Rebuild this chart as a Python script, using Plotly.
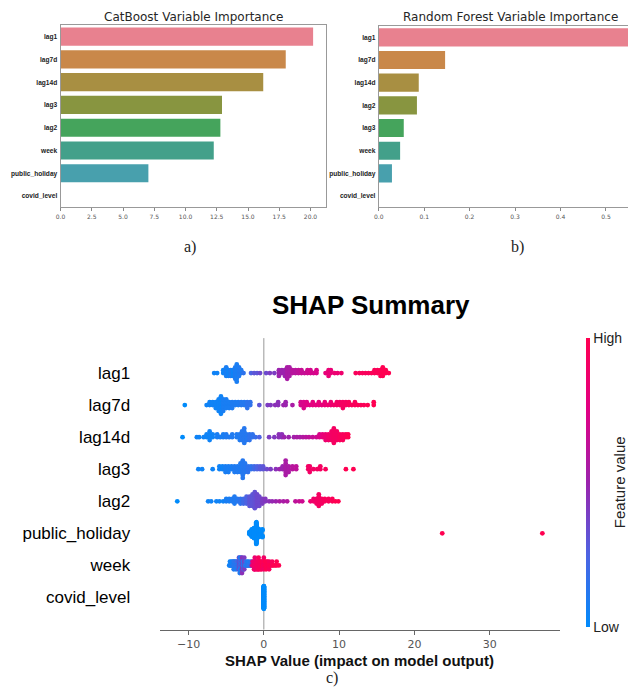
import numpy as np
import plotly.graph_objects as go

# ---------------- data: panel a (CatBoost) ----------------
features_cb = ["lag1", "lag7d", "lag14d", "lag3", "lag2", "week", "public_holiday", "covid_level"]
importance_cb = [20.21, 18.02, 16.22, 12.92, 12.79, 12.26, 7.03, 0.0]
cb_ticks = [0.0, 2.5, 5.0, 7.5, 10.0, 12.5, 15.0, 17.5, 20.0]

# ---------------- data: panel b (Random Forest) ----------------
features_rf = ["lag1", "lag7d", "lag14d", "lag2", "lag3", "week", "public_holiday", "covid_level"]
importance_rf = [0.557, 0.146, 0.088, 0.084, 0.055, 0.047, 0.029, 0.0]
rf_ticks = [0.0, 0.1, 0.2, 0.3, 0.4, 0.5]

bar_colors = ["#e8818f", "#c9884a", "#a88f42", "#889540", "#45a45c", "#43a08a", "#48a0ad", "#5c9fd0"]

# ---------------- data: panel c (SHAP summary) ----------------
# each entry: (shap value, number of points at that value, normalised feature value)
shap_lag1 = [(-6.6, 1, 0.05), (-6.2, 1, 0.05), (-5.4, 2, 0.05), (-5.0, 4, 0.08), (-4.7, 3, 0.05),
             (-4.4, 3, 0.10), (-4.1, 3, 0.05), (-3.8, 5, 0.10), (-3.6, 7, 0.08), (-3.3, 4, 0.10),
             (-3.0, 2, 0.10), (-2.7, 1, 0.15), (-1.7, 1, 0.25), (-1.3, 1, 0.30), (-0.9, 1, 0.30),
             (-0.5, 1, 0.35), (0.3, 1, 0.35), (0.8, 1, 0.40), (1.4, 1, 0.40), (2.0, 3, 0.50),
             (2.4, 2, 0.50), (2.8, 3, 0.50), (3.1, 5, 0.55), (3.4, 4, 0.55), (3.8, 2, 0.60),
             (4.2, 2, 0.60), (4.6, 2, 0.62), (5.0, 2, 0.65), (5.4, 1, 0.65), (5.8, 2, 0.68),
             (6.2, 2, 0.70), (6.6, 1, 0.70), (7.0, 2, 0.72), (8.2, 1, 0.80), (8.6, 3, 0.82),
             (8.9, 2, 0.82), (9.4, 1, 0.85), (9.8, 1, 0.85), (10.3, 1, 0.87), (12.2, 1, 0.95),
             (12.7, 1, 0.95), (13.1, 1, 0.95), (13.5, 1, 0.95), (13.9, 1, 0.95), (14.3, 1, 0.97),
             (14.7, 2, 0.97), (15.1, 2, 0.97), (15.5, 3, 0.98), (15.8, 4, 1.0), (16.2, 2, 1.0),
             (16.6, 1, 1.0)]
shap_lag7d = [(-10.5, 1, 0.0), (-7.6, 1, 0.05), (-7.2, 2, 0.05), (-6.8, 2, 0.05), (-6.4, 3, 0.05),
              (-6.0, 5, 0.05), (-5.7, 7, 0.05), (-5.4, 5, 0.08), (-5.0, 4, 0.08), (-4.6, 3, 0.08),
              (-4.2, 3, 0.10), (-3.8, 2, 0.10), (-3.4, 2, 0.10), (-3.0, 2, 0.12), (-2.6, 2, 0.12),
              (-2.2, 3, 0.15), (-1.8, 2, 0.15), (-0.6, 1, 0.30), (0.5, 1, 0.40), (0.9, 1, 0.42),
              (1.5, 1, 0.45), (1.9, 2, 0.45), (2.6, 1, 0.50), (2.9, 2, 0.50), (3.8, 1, 0.55),
              (4.9, 2, 0.70), (5.3, 3, 0.72), (5.7, 2, 0.75), (6.1, 1, 0.75), (6.5, 2, 0.78),
              (6.9, 1, 0.78), (7.3, 2, 0.80), (7.7, 1, 0.80), (8.1, 2, 0.82), (8.5, 1, 0.85),
              (8.9, 2, 0.85), (9.3, 1, 0.88), (9.7, 2, 0.90), (10.1, 2, 0.90), (10.5, 3, 0.92),
              (10.9, 2, 0.92), (11.3, 2, 0.95), (11.7, 1, 0.95), (12.1, 2, 0.95), (12.5, 1, 0.97),
              (12.9, 1, 0.97), (13.3, 1, 0.97), (13.8, 1, 1.0), (14.6, 2, 1.0)]
shap_lag14d = [(-10.8, 1, 0.0), (-8.9, 1, 0.05), (-8.6, 1, 0.05), (-8.0, 1, 0.05), (-7.6, 2, 0.05),
               (-7.2, 4, 0.05), (-6.8, 2, 0.05), (-6.2, 2, 0.08), (-5.8, 1, 0.08), (-5.4, 2, 0.08),
               (-5.0, 2, 0.10), (-4.6, 1, 0.10), (-4.2, 2, 0.10), (-3.6, 2, 0.10), (-3.2, 3, 0.10),
               (-2.9, 4, 0.12), (-2.6, 6, 0.12), (-2.3, 3, 0.12), (-1.9, 3, 0.15), (-1.5, 2, 0.15),
               (-1.1, 1, 0.18), (-0.6, 1, 0.25), (0.7, 1, 0.40), (1.4, 1, 0.42), (2.0, 2, 0.45),
               (2.4, 2, 0.45), (2.7, 1, 0.50), (3.3, 1, 0.50), (4.0, 1, 0.52), (4.4, 1, 0.55),
               (4.8, 1, 0.55), (5.2, 1, 0.58), (5.6, 1, 0.60), (6.0, 1, 0.62), (6.5, 1, 0.65),
               (7.0, 1, 0.68), (7.4, 2, 0.72), (7.8, 2, 0.80), (8.2, 3, 0.85), (8.6, 3, 0.88),
               (9.0, 4, 0.90), (9.3, 6, 0.92), (9.7, 4, 0.92), (10.1, 3, 0.95), (10.5, 3, 0.95),
               (10.9, 2, 0.97), (11.2, 2, 1.0)]
shap_lag3 = [(-8.7, 1, 0.05), (-8.2, 1, 0.05), (-6.8, 1, 0.05), (-5.9, 2, 0.05), (-5.5, 2, 0.05),
             (-5.1, 3, 0.08), (-4.7, 3, 0.08), (-4.3, 2, 0.08), (-3.9, 3, 0.10), (-3.5, 3, 0.10),
             (-3.1, 4, 0.10), (-2.8, 7, 0.12), (-2.5, 4, 0.12), (-2.1, 3, 0.15), (-1.7, 2, 0.15),
             (-1.3, 2, 0.20), (-0.9, 2, 0.25), (-0.5, 2, 0.28), (-0.1, 2, 0.30), (0.4, 1, 0.35),
             (0.9, 1, 0.40), (1.6, 1, 0.45), (2.1, 1, 0.50), (2.5, 2, 0.50), (2.9, 6, 0.55),
             (3.3, 3, 0.55), (3.8, 2, 0.60), (4.3, 2, 0.62), (5.9, 2, 0.90), (6.1, 3, 0.90),
             (6.6, 1, 0.90), (7.1, 1, 0.92), (7.5, 2, 0.92), (8.2, 1, 0.95), (10.9, 1, 1.0),
             (11.9, 1, 1.0)]
shap_lag2 = [(-11.5, 1, 0.0), (-7.4, 1, 0.05), (-7.0, 1, 0.05), (-6.3, 1, 0.05), (-5.9, 1, 0.05),
             (-5.4, 1, 0.05), (-5.0, 2, 0.08), (-4.6, 2, 0.08), (-4.2, 2, 0.10), (-3.9, 4, 0.10),
             (-3.5, 2, 0.12), (-3.1, 3, 0.15), (-2.7, 3, 0.20), (-2.3, 4, 0.25), (-1.9, 5, 0.30),
             (-1.5, 6, 0.30), (-1.2, 8, 0.32), (-0.9, 6, 0.35), (-0.6, 5, 0.35), (-0.2, 3, 0.40),
             (0.2, 2, 0.42), (0.7, 1, 0.45), (1.1, 1, 0.48), (1.6, 1, 0.50), (2.1, 1, 0.55),
             (2.6, 1, 0.55), (3.1, 1, 0.58), (4.2, 1, 0.62), (4.7, 1, 0.65), (5.1, 1, 0.68),
             (6.2, 1, 0.85), (6.6, 2, 0.88), (7.0, 3, 0.90), (7.3, 6, 0.92), (7.7, 3, 0.92),
             (8.1, 2, 0.95), (8.6, 2, 0.95), (9.1, 2, 0.97), (9.5, 1, 1.0), (9.9, 1, 1.0)]
shap_public_holiday = [(-1.9, 6, 0.0), (-1.6, 16, 0.0), (-1.3, 22, 0.0), (-1.0, 24, 0.0),
                       (-0.7, 18, 0.0), (-0.4, 10, 0.0), (-0.2, 7, 0.0), (23.7, 1, 1.0), (37.0, 1, 1.0)]
shap_week = [(-4.6, 1, 0.05), (-4.5, 2, 0.05), (-4.4, 1, 0.10), (-4.3, 2, 0.05), (-4.2, 1, 0.10),
             (-4.1, 2, 0.10), (-4.0, 3, 0.10), (-3.9, 2, 0.15), (-3.8, 1, 0.10), (-3.7, 3, 0.10),
             (-3.6, 2, 0.20), (-3.5, 1, 0.10), (-3.4, 3, 0.15), (-3.3, 4, 0.40), (-3.2, 5, 0.10),
             (-3.1, 2, 0.30), (-3.0, 4, 0.10), (-2.9, 5, 0.45), (-2.8, 2, 0.10), (-2.7, 3, 0.15),
             (-2.6, 4, 0.40), (-2.5, 1, 0.10), (-2.4, 2, 0.20), (-2.3, 1, 0.10), (-2.2, 2, 0.10),
             (-2.1, 1, 0.15), (-2.0, 2, 0.10), (-1.9, 1, 0.20), (-1.8, 1, 0.10), (-1.7, 2, 0.15),
             (-1.6, 1, 0.60), (-1.5, 2, 0.80), (-1.4, 1, 0.85), (-1.3, 3, 0.90), (-1.2, 4, 0.85),
             (-1.1, 2, 0.90), (-1.0, 3, 0.90), (-0.9, 1, 0.95), (-0.8, 3, 0.90), (-0.7, 4, 0.95),
             (-0.6, 2, 0.90), (-0.5, 3, 0.95), (-0.4, 1, 0.90), (-0.3, 3, 0.95), (-0.2, 2, 1.0),
             (-0.1, 1, 0.95), (0.0, 4, 0.90), (0.1, 2, 1.0), (0.2, 1, 0.95), (0.3, 3, 1.0),
             (0.4, 1, 0.95), (0.5, 2, 1.0), (0.6, 1, 1.0), (0.7, 3, 0.95), (0.8, 1, 1.0),
             (1.0, 1, 1.0), (1.1, 2, 0.95), (1.3, 1, 1.0), (1.5, 1, 1.0), (1.7, 2, 1.0),
             (2.0, 1, 1.0)]
shap_covid_level = [(0.0, 105, 0.0)]

shap_features = ["lag1", "lag7d", "lag14d", "lag3", "lag2", "public_holiday", "week", "covid_level"]
shap_rows = [shap_lag1, shap_lag7d, shap_lag14d, shap_lag3, shap_lag2,
             shap_public_holiday, shap_week, shap_covid_level]
shap_ticks = [-10, 0, 10, 20, 30]

# SHAP red_blue colour map (blue -> purple -> red)
shap_colorscale = [[0.0, "#008bfb"], [0.25, "#4d63e2"], [0.5, "#9b23ad"],
                   [0.75, "#e10084"], [1.0, "#ff0051"]]


def beeswarm(vals, row_height=0.4, nbins=100):
    """Vertical offsets as computed by shap's beeswarm layout."""
    vals = np.asarray(vals, dtype=float)
    n = len(vals)
    span = vals.max() - vals.min()
    quant = np.round(nbins * (vals - vals.min()) / (span + 1e-8))
    inds = np.argsort(quant, kind="stable")
    layer, last = 0, -1
    ys = np.zeros(n)
    for i in inds:
        if quant[i] != last:
            layer = 0
        ys[i] = np.ceil(layer / 2) * ((layer % 2) * 2 - 1)
        layer += 1
        last = quant[i]
    ys *= 0.9 * (row_height / np.max(ys + 1))
    return ys


# the page body has an 8px margin: the figure's origin sits at page pixel (8, 8)
OFF = 8
W, H = 628, 680
def px(x):
    return (x - OFF) / W
def py(y):
    return 1 - (y - OFF) / H

fig = go.Figure()

# panel a
fig.add_trace(go.Bar(x=importance_cb, y=features_cb, orientation="h", width=0.8,
                     marker=dict(color=bar_colors, line=dict(width=0)),
                     xaxis="x", yaxis="y", hoverinfo="x+y"))
# panel b
fig.add_trace(go.Bar(x=importance_rf, y=features_rf, orientation="h", width=0.8,
                     marker=dict(color=bar_colors, line=dict(width=0)),
                     xaxis="x2", yaxis="y2", hoverinfo="x+y"))

# panel c
n_feat = len(shap_features)
for k, (name, row) in enumerate(zip(shap_features, shap_rows)):
    xs, cs = [], []
    for v, cnt, c in row:
        xs += [v] * cnt
        cs += [c] * cnt
    pos = n_feat - 1 - k
    ys = pos + beeswarm(xs)
    fig.add_trace(go.Scatter(
        x=xs, y=ys, mode="markers", name=name, xaxis="x3", yaxis="y3",
        marker=dict(size=4.8, color=cs, coloraxis="coloraxis", line=dict(width=0)),
        hoverinfo="x"))

tick_small = dict(family="DejaVu Sans", size=6, color="#555555")
ylab_small = dict(family="Liberation Sans", size=6.6, color="#222222", weight="bold")

fig.update_layout(
    width=W, height=H, margin=dict(l=0, r=0, t=0, b=0),
    paper_bgcolor="white", plot_bgcolor="white", showlegend=False,
    xaxis=dict(domain=[px(56), px(324)], anchor="y", range=[0, 21.24],
               tickvals=cb_ticks, ticktext=[f"{v:.1f}" for v in cb_ticks],
               tickfont=tick_small, ticks="outside", ticklen=3, tickcolor="#888888",
               showline=True, mirror=True, linecolor="#999999", linewidth=1,
               showgrid=False, zeroline=False),
    yaxis=dict(domain=[py(207.4), py(25.3)], anchor="x", type="category",
               categoryorder="array", categoryarray=features_cb, range=[7.5, -0.5],
               tickfont=ylab_small, ticks="outside", ticklen=1, tickcolor="rgba(0,0,0,0)",
               showline=True, mirror=True, linecolor="#999999", linewidth=1,
               showgrid=False, zeroline=False),
    xaxis2=dict(domain=[px(377.3), 1.0], anchor="y2", range=[0, (636 - 377.3) / 458.7],
                tickvals=rf_ticks, ticktext=[f"{v:.1f}" for v in rf_ticks],
                tickfont=tick_small, ticks="outside", ticklen=3, tickcolor="#888888",
                showline=True, mirror=True, linecolor="#999999", linewidth=1,
                showgrid=False, zeroline=False),
    yaxis2=dict(domain=[py(207.4), py(26.0)], anchor="x2", type="category",
                categoryorder="array", categoryarray=features_rf, range=[7.5, -0.5],
                tickfont=ylab_small, ticks="outside", ticklen=1, tickcolor="rgba(0,0,0,0)",
                showline=True, mirror=True, linecolor="#999999", linewidth=1,
                showgrid=False, zeroline=False),
    xaxis3=dict(domain=[px(156), px(560.7)], anchor="y3", range=[-13.85, 39.4],
                tickvals=shap_ticks, ticktext=[str(v).replace("-", "\u2212") for v in shap_ticks],
                tickfont=dict(family="DejaVu Sans", size=11, color="#555555"),
                ticks="outside", ticklen=4, tickcolor="#666666",
                showline=True, linecolor="#666666", linewidth=1.3,
                showgrid=False, zeroline=False),
    yaxis3=dict(domain=[py(629.5), py(341)], anchor="x3", range=[-1, n_feat],
                tickvals=list(range(n_feat)), ticktext=shap_features[::-1],
                tickfont=dict(family="Liberation Sans", size=17, color="#000000"),
                ticks="outside", ticklen=25, tickcolor="rgba(0,0,0,0)",
                showline=False, showgrid=False, zeroline=False),
    coloraxis=dict(colorscale=shap_colorscale, cmin=0, cmax=1,
                   colorbar=dict(thickness=4, lenmode="pixels", len=289,
                                 x=px(587), xanchor="left", xpad=0,
                                 y=py(482.5), yanchor="middle", ypad=0,
                                 outlinewidth=0, tickvals=[0, 1], ticktext=["Low", "High"],
                                 ticks="", tickfont=dict(family="Liberation Sans", size=14,
                                                         color="#222222"))),
)

fig.add_shape(type="line", xref="x3", yref="y3 domain", x0=0, x1=0, y0=0, y1=1.01,
              line=dict(color="#999999", width=1), layer="below")

annotations = [
    dict(text="CatBoost Variable Importance", x=px(190), y=py(17.3),
         font=dict(family="DejaVu Sans", size=12, color="#262626")),
    dict(text="Random Forest Variable Importance", x=px(510.5), y=py(17.3),
         font=dict(family="DejaVu Sans", size=12, color="#262626")),
    dict(text="a)", x=px(187), y=py(247), font=dict(family="Liberation Serif", size=16, color="#222222")),
    dict(text="b)", x=px(517), y=py(247), font=dict(family="Liberation Serif", size=16, color="#222222")),
    dict(text="SHAP Summary", x=px(369), y=py(305),
         font=dict(family="Liberation Sans", size=26, color="#000000", weight="bold")),
    dict(text="SHAP Value (impact on model output)", x=px(358), y=py(660),
         font=dict(family="Liberation Sans", size=15, color="#111111", weight="bold")),
    dict(text="Feature value", x=px(620), y=py(482), textangle=-90,
         font=dict(family="Liberation Sans", size=15, color="#222222")),
    dict(text="c)", x=px(330), y=py(678), font=dict(family="Liberation Serif", size=16, color="#222222")),
]
for a in annotations:
    fig.add_annotation(xref="paper", yref="paper", xanchor="center", yanchor="middle",
                       showarrow=False, **a)

fig.write_html("out.html")
